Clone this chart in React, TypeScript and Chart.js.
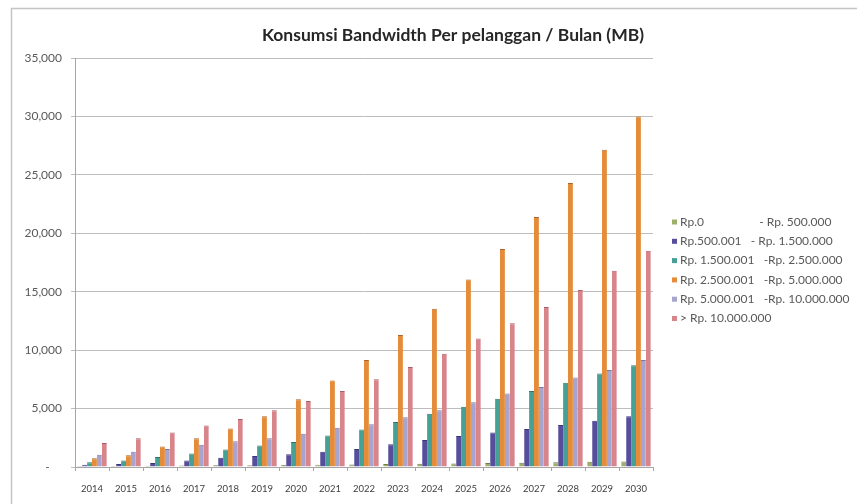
import React, { useEffect, useRef } from 'react';
import { Chart, registerables } from 'chart.js';

Chart.register(...registerables);

const years = ['2014', '2015', '2016', '2017', '2018', '2019', '2020', '2021', '2022', '2023', '2024', '2025', '2026', '2027', '2028', '2029', '2030'];

const seriesLabels = [
  'Rp.0                  - Rp. 500.000',
  'Rp.500.001   - Rp. 1.500.000',
  'Rp. 1.500.001   -Rp. 2.500.000',
  'Rp. 2.500.001   -Rp. 5.000.000',
  'Rp. 5.000.001   -Rp. 10.000.000',
  '> Rp. 10.000.000',
];

const rp0To500k = [80, 90, 100, 120, 140, 160, 180, 200, 220, 250, 280, 310, 340, 370, 400, 440, 480];
const rp500kTo1500k = [200, 250, 350, 550, 800, 950, 1100, 1300, 1550, 1950, 2300, 2650, 2950, 3250, 3600, 3950, 4350];
const rp1500kTo2500k = [400, 550, 850, 1150, 1500, 1850, 2150, 2700, 3200, 3850, 4550, 5150, 5850, 6500, 7200, 8000, 8700];
const rp2500kTo5m = [750, 1000, 1750, 2450, 3300, 4350, 5800, 7400, 9150, 11300, 13550, 16050, 18650, 21400, 24300, 27150, 30000];
const rp5mTo10m = [1050, 1300, 1550, 1900, 2200, 2450, 2850, 3350, 3650, 4250, 4850, 5550, 6300, 6850, 7650, 8300, 9150];
const above10m = [2050, 2450, 2950, 3550, 4100, 4850, 5650, 6500, 7500, 8550, 9700, 11000, 12300, 13700, 15150, 16800, 18500];

const seriesValues = [rp0To500k, rp500kTo1500k, rp1500kTo2500k, rp2500kTo5m, rp5mTo10m, above10m];
const seriesColors = ['#9EAF6B', '#564E9C', '#46A095', '#E58C3A', '#A7A5CE', '#D8848B'];
const seriesEdges = ['#6F7D47', '#3A3470', '#2E7268', '#A9652A', '#7C7AA3', '#A65F66'];

const yTicks = [0, 5000, 10000, 15000, 20000, 25000, 30000, 35000];
const titleText = 'Konsumsi Bandwidth Per pelanggan / Bulan (MB)';

const FONT = 'Lato, "Open Sans", sans-serif';

export default function App() {
  const ref = useRef<HTMLCanvasElement | null>(null);

  useEffect(() => {
    if (!ref.current) return;

    const decor = {
      id: 'decor',
      beforeDraw(chart: any) {
        const ctx = chart.ctx;
        ctx.save();
        ctx.fillStyle = '#ffffff';
        ctx.fillRect(0, 0, chart.width, chart.height);
        ctx.strokeStyle = '#C4C4C4';
        ctx.lineWidth = 1.5;
        ctx.strokeRect(11.5, 8.5, 890, 600);
        ctx.restore();
      },
      afterDraw(chart: any) {
        const ctx = chart.ctx;
        ctx.save();
        ctx.fillStyle = '#262626';
        ctx.font = 'bold 17.5px ' + FONT;
        ctx.textAlign = 'center';
        ctx.textBaseline = 'middle';
        ctx.fillText(titleText, 453, 35);

        ctx.font = '12px ' + FONT;
        ctx.textAlign = 'left';
        chart.data.datasets.forEach((ds: any, i: number) => {
          const y = 222 + i * 19.3;
          ctx.fillStyle = ds.backgroundColor;
          ctx.fillRect(672, y - 2.5, 5, 5);
          ctx.fillStyle = '#595959';
          ctx.fillText(ds.label, 680, y);
        });
        ctx.restore();
      },
    };

    const chart = new Chart(ref.current, {
      type: 'bar',
      data: {
        labels: years,
        datasets: seriesValues.map((vals, i) => ({
          label: seriesLabels[i],
          data: vals,
          backgroundColor: seriesColors[i],
          borderColor: seriesEdges[i],
          borderWidth: { top: 1, left: 0, right: 0, bottom: 0 },
          borderSkipped: 'bottom',
          categoryPercentage: 0.87,
          barPercentage: 1.0,
        })),
      },
      options: {
        responsive: false,
        animation: false,
        devicePixelRatio: 1,
        layout: { padding: { left: 11, right: 253, top: 58, bottom: 0 } },
        plugins: {
          legend: { display: false },
          title: { display: false },
          tooltip: { enabled: false },
        },
        scales: {
          x: {
            grid: {
              offset: true,
              drawOnChartArea: false,
              drawTicks: true,
              tickLength: 4,
              color: '#A6A6A6',
            },
            border: { color: '#A6A6A6', width: 1 },
            ticks: {
              color: '#404040',
              font: { family: FONT, size: 9.5 },
              padding: 12,
              maxRotation: 0,
              autoSkip: false,
            },
            afterFit: (scale: any) => {
              scale.height = 37;
            },
          },
          y: {
            min: 0,
            max: 35000,
            afterBuildTicks: (scale: any) => {
              scale.ticks = yTicks.map((v) => ({ value: v }));
            },
            grid: {
              color: '#BDBDBD',
              lineWidth: 1,
              drawTicks: true,
              tickLength: 4,
            },
            border: { color: '#A6A6A6', width: 1 },
            ticks: {
              color: '#595959',
              font: { family: FONT, size: 12 },
              padding: 9,
              callback: (v: any) => (Number(v) === 0 ? '-    ' : Number(v).toLocaleString('en-US')),
            },
            afterFit: (scale: any) => {
              scale.width = 64;
            },
          },
        },
      },
      plugins: [decor],
    });

    return () => chart.destroy();
  }, []);

  return (
    <div style={{ position: 'fixed', left: 0, top: 0, width: 857, height: 504, overflow: 'hidden', background: '#fff' }}>
      <canvas ref={ref} width={906} height={504} style={{ display: 'block' }} />
    </div>
  );
}
